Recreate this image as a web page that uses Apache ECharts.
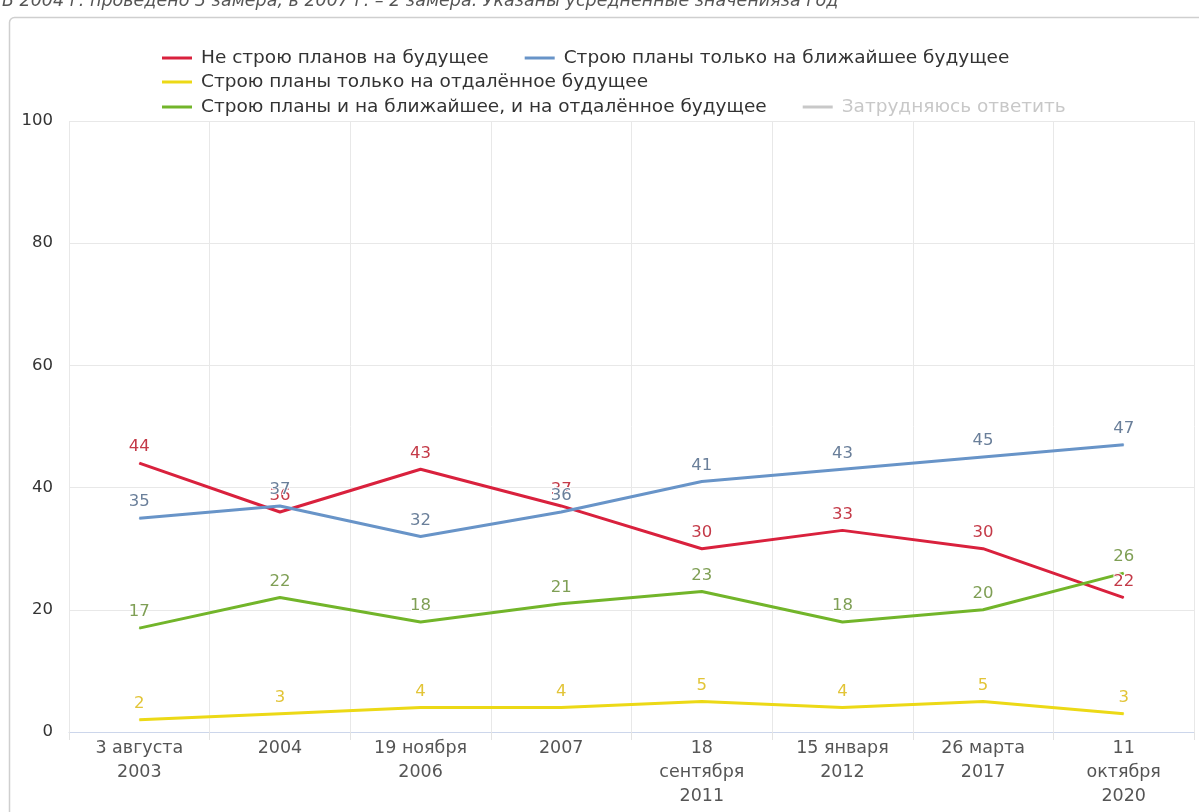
<!DOCTYPE html>
<html>
<head>
<meta charset="utf-8">
<script src="https://cdn.jsdelivr.net/npm/echarts@6/dist/echarts.min.js"></script>
<style>
html,body{margin:0;padding:0;background:#fff;}
#chart{width:1199px;height:812px;}
</style>
</head>
<body>
<div id="chart"></div>
<script>
const categories = ['3 августа\n2003', '2004', '19 ноября\n2006', '2007', '18\nсентября\n2011', '15 января\n2012', '26 марта\n2017', '11\nоктября\n2020'];
const noPlans = [44, 36, 43, 37, 30, 33, 30, 22];
const nearOnly = [35, 37, 32, 36, 41, 43, 45, 47];
const farOnly = [2, 3, 4, 4, 5, 4, 5, 3];
const nearAndFar = [17, 22, 18, 21, 23, 18, 20, 26];
const hardToSay = [];
const yTicks = { min: 0, max: 100, interval: 20 };
const note = 'В 2004 г. проведено 3 замера, в 2007 г. – 2 замера. Указаны усредненные значенияза год';

const names = ['Не строю планов на будущее', 'Строю планы только на ближайшее будущее', 'Строю планы только на отдалённое будущее', 'Строю планы и на ближайшее, и на отдалённое будущее', 'Затрудняюсь ответить'];
const lineColors = ['#d9213d', '#6894c8', '#ecd916', '#72b52a', '#bbbbbb'];
const labelColors = ['#c43a48', '#6a7f9a', '#e2c437', '#7f9f55', '#aaaaaa'];
const seriesData = [noPlans, nearOnly, farOnly, nearAndFar, hardToSay];

const FONT = 'DejaVu Sans';
const chart = echarts.init(document.getElementById('chart'), null, { renderer: 'canvas' });

function legendRow(items, top, extra) {
  return Object.assign({
    left: 157,
    top: top,
    orient: 'horizontal',
    icon: 'rect',
    itemWidth: 30,
    itemHeight: 3,
    itemGap: 36,
    data: items,
    inactiveColor: '#c8c8c8',
    textStyle: { fontFamily: FONT, fontSize: 18.5, color: '#333', lineHeight: 20, padding: [0, 0, 0, 4] }
  }, extra || {});
}

const option = {
  animation: false,
  backgroundColor: '#fff',
  graphic: [
    {
      type: 'rect',
      shape: { x: 9.5, y: 17.5, width: 1400, height: 1000, r: 5 },
      style: { fill: 'none', stroke: '#cfcfcf', lineWidth: 1.5 },
      z: -1
    },
    {
      type: 'text',
      left: 2,
      top: -8,
      style: { text: note, fill: '#555', font: 'italic 17.5px "DejaVu Sans"' }
    }
  ],
  legend: [
    legendRow([names[0], names[1]], 43),
    legendRow([names[2]], 67),
    legendRow([names[3], names[4]], 92, { selected: { 'Затрудняюсь ответить': false } })
  ],
  grid: { left: 69, right: 5, top: 121, bottom: 80, containLabel: false },
  xAxis: {
    type: 'category',
    data: categories,
    boundaryGap: true,
    axisLine: { lineStyle: { color: '#ccd6eb', width: 1 } },
    axisTick: { show: true, length: 8, lineStyle: { color: '#e3e3e3' } },
    splitLine: { show: true, lineStyle: { color: '#e8e8e8', width: 1 } },
    axisLabel: { interval: 0, fontFamily: FONT, fontSize: 17.5, lineHeight: 24, color: '#555', margin: 4 }
  },
  yAxis: {
    type: 'value',
    min: yTicks.min,
    max: yTicks.max,
    interval: yTicks.interval,
    axisLine: { show: false },
    axisTick: { show: false },
    splitLine: { lineStyle: { color: '#e8e8e8', width: 1 } },
    axisLabel: { fontFamily: FONT, fontSize: 16.5, color: '#333', margin: 16, padding: [6, 0, 0, 0] }
  },
  series: names.map((n, i) => ({
    name: n,
    type: 'line',
    data: seriesData[i],
    symbol: 'circle',
    symbolSize: 1,
    showSymbol: true,
    color: lineColors[i],
    itemStyle: { color: lineColors[i] },
    lineStyle: { color: lineColors[i], width: 3 },
    label: {
      show: true,
      position: 'top',
      distance: 7,
      fontFamily: FONT,
      fontSize: 16.5,
      color: labelColors[i],
      textBorderColor: '#fff',
      textBorderWidth: 2
    },
    emphasis: { disabled: true }
  }))
};
chart.setOption(option);
</script>
</body>
</html>
